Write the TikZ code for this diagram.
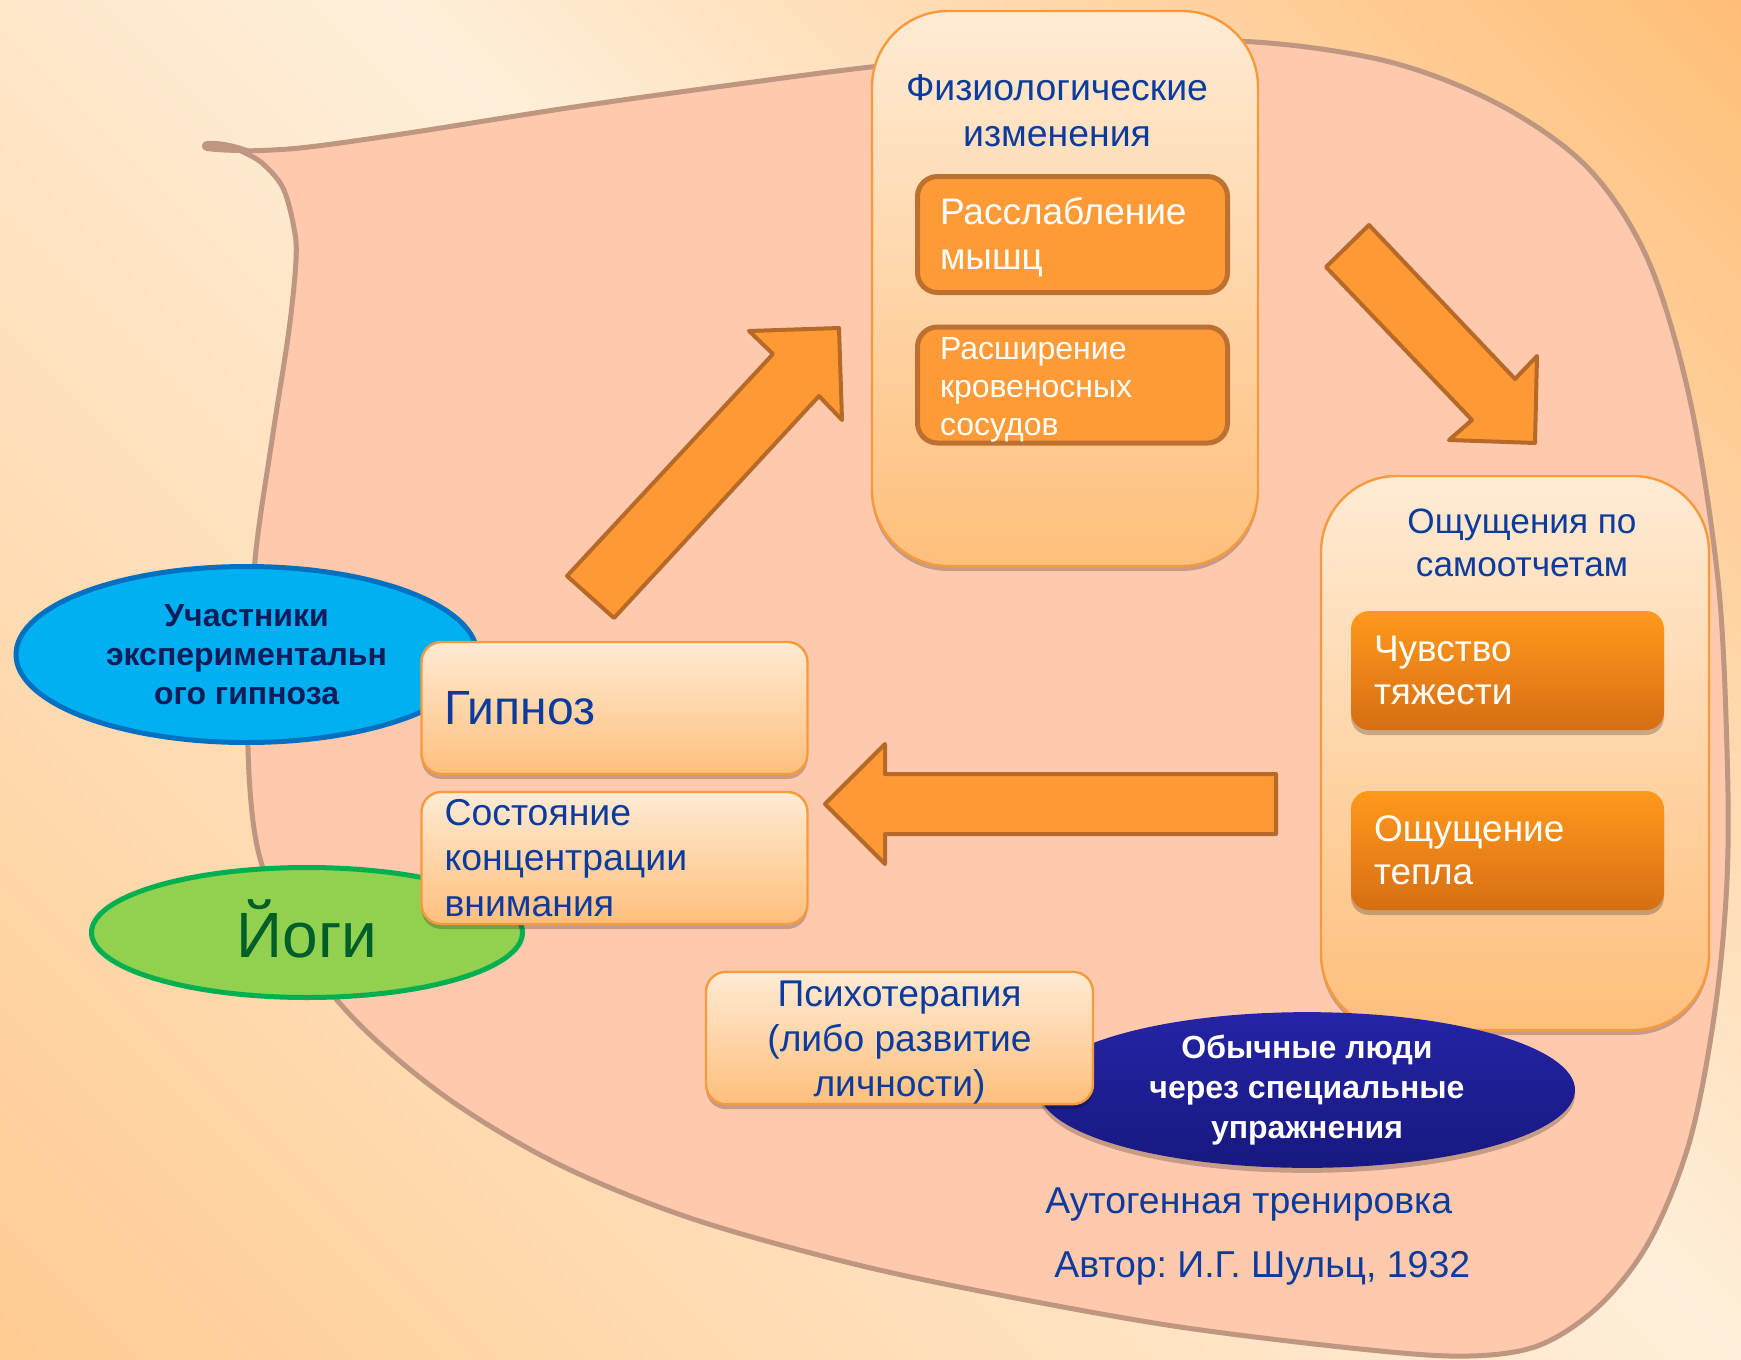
\documentclass[tikz,border=0pt]{standalone}
\usepackage{fontspec}
\setmainfont{Liberation Sans}
\usetikzlibrary{shapes.geometric,shadows}
\frenchspacing
\definecolor{bgLt}{HTML}{FFEFDA}
\definecolor{bgOr}{HTML}{FFBB72}
\definecolor{blobFill}{HTML}{FFC9AD}
\definecolor{blobLine}{HTML}{BF9680}
\definecolor{txtBlue}{HTML}{0C3B9E}
\definecolor{boxTop}{HTML}{FFEBD4}
\definecolor{boxBot}{HTML}{FFBF7C}
\definecolor{boxLine}{HTML}{F79A3C}
\definecolor{innFill}{HTML}{FF9B37}
\definecolor{innLine}{HTML}{BE7030}
\definecolor{intTop}{HTML}{FF9A1C}
\definecolor{intBot}{HTML}{D66E14}
\definecolor{arrFill}{HTML}{FF9933}
\definecolor{arrLine}{HTML}{B7692A}
\definecolor{uchFill}{HTML}{00B0F0}
\definecolor{uchLine}{HTML}{0070C0}
\definecolor{uchTxt}{HTML}{0E1D5A}
\definecolor{yogFill}{HTML}{92D050}
\definecolor{yogLine}{HTML}{00B050}
\definecolor{yogTxt}{HTML}{005E28}
\definecolor{obTop}{HTML}{2424A6}
\definecolor{obBot}{HTML}{181880}
\pgfdeclarehorizontalshading{bgshade}{100bp}{color(0bp)=(bgOr); color(12bp)=(bgOr); color(50bp)=(bgLt); color(71bp)=(bgOr); color(100bp)=(bgOr)}
\begin{document}
\begin{tikzpicture}[x=0.5pt,y=-0.5pt,
  softshadow/.style={drop shadow={shadow xshift=0pt,shadow yshift=-2.5pt,opacity=0.22,fill=black}},
  lightbox/.style={draw=boxLine,line width=1.2pt,top color=boxTop,bottom color=boxBot,rounded corners=10pt,softshadow,inner ysep=0pt},
  container/.style={lightbox,rounded corners=38pt},
  innerbox/.style={draw=innLine,line width=2.5pt,fill=innFill,rounded corners=10pt,text=white,align=left,inner ysep=0pt},
  intensebox/.style={top color=intTop,bottom color=intBot,rounded corners=9pt,text=white,align=left,softshadow,inner ysep=0pt},
  blockarrow/.style={fill=arrFill,draw=arrLine,line width=2pt,line join=round},
  blob/.style={fill=blobFill,draw=blobLine,line width=2.5pt},
  plain/.style={inner sep=0pt,text=txtBlue}
]
\useasboundingbox (0,0) rectangle (1741,1360);
\begin{scope}
\clip (0,0) rectangle (1741,1360);
\shade[shading=bgshade,shading angle=45] (971,580) ++(-1200,-1200) rectangle ++(2400,2400);
\end{scope}

% blob
\draw[blob] plot[smooth,tension=0.55] coordinates {(241,151) (262,163) (283,188) (294,228) (296,260) (289,330) (272,440) (255,560) (248,690) (250,790) (262,865) (300,950) (360,1025) (450,1100) (560,1165) (690,1218) (850,1263) (1000,1295) (1180,1327) (1370,1350) (1470,1356) (1540,1345) (1600,1305) (1650,1240) (1690,1140) (1715,1010) (1727,880) (1727,750) (1718,580) (1690,400) (1648,260) (1588,168) (1500,105) (1390,62) (1255,42) (1120,45) (1000,55) (871,67) (746,83) (574,107) (402,134) (300,148) (241,151)};
\fill[blobLine] (252,150) .. controls (236,143) and (216,140) .. (207,141) .. controls (200,142) and (200,150) .. (207,151) .. controls (222,153) and (240,153) .. (252,153) -- cycle;

% block arrows
\draw[blockarrow] (749,331) -- (839,328) -- (842,420) -- (819,396) -- (614,618) -- (567,576) -- (773,354) -- cycle;
\draw[blockarrow] (1369,225) -- (1326,267) -- (1472,420) -- (1449,440) -- (1535,443) -- (1537,356) -- (1515,379) -- cycle;
\draw[blockarrow] (825,804) -- (885,744) -- (885,774) -- (1276,774) -- (1276,834) -- (885,834) -- (885,864) -- cycle;

% physiological changes
\node[container,minimum width=193pt,minimum height=277.5pt] (phys) at (1065,288.5) {};
\node[plain,anchor=north,align=center,font=\fontsize{18.7}{23}\selectfont] (physT) at (1057,74) {Физиологические\\изменения};
\node[innerbox,minimum width=155pt,minimum height=58pt,text width=132.5pt,inner xsep=11.25pt,font=\fontsize{18.5}{22.5}\selectfont] (rass) at (1072.5,234.5) {\rule{0pt}{16.2pt}Расслабление\\мышц};
\node[innerbox,minimum width=155pt,minimum height=58pt,text width=132.5pt,inner xsep=11.25pt,font=\fontsize{16}{19}\selectfont] (rassh) at (1072.5,385) {\rule{0pt}{15.9pt}Расширение\\кровеносных\\сосудов};

% self reports
\node[container,minimum width=194pt,minimum height=277pt] (osh) at (1515,753) {};
\node[plain,anchor=north,align=center,font=\fontsize{17.6}{21.5}\selectfont] (oshT) at (1522,509) {Ощущения по\\самоотчетам};
\node[intensebox,minimum width=156.5pt,minimum height=59.5pt,text width=133.5pt,inner xsep=11.5pt,font=\fontsize{18.5}{21.5}\selectfont] (chuv) at (1507.5,670.5) {Чувство\\тяжести};
\node[intensebox,minimum width=156.5pt,minimum height=59.5pt,text width=133.5pt,inner xsep=11.5pt,font=\fontsize{18.5}{21.5}\selectfont] (tepl) at (1507.5,850.5) {Ощущение\\тепла};

% left side
\node[ellipse,draw=uchLine,line width=2.5pt,fill=uchFill,minimum width=230.5pt,minimum height=88pt,inner sep=0pt,align=center,text=uchTxt,font=\bfseries\fontsize{16}{19.5}\selectfont] (uch) at (246.5,654.5) {Участники\\экспериментальн\\ого гипноза};
\node[lightbox,minimum width=193pt,minimum height=66pt,text width=170pt,inner xsep=11.5pt,align=left,text=txtBlue,font=\fontsize{24}{28}\selectfont] (gip) at (614.5,708) {Гипноз};
\node[ellipse,draw=yogLine,line width=2.5pt,fill=yogFill,minimum width=215.5pt,minimum height=65pt,inner sep=0pt,text=yogTxt,font=\fontsize{32}{36}\selectfont] (yogi) at (307,932.5) {\rule[-4pt]{0pt}{4pt}Йоги};
\node[lightbox,minimum width=193pt,minimum height=66pt,text width=170pt,inner xsep=11.5pt,align=left,text=txtBlue,font=\fontsize{18.7}{22.75}\selectfont] (sost) at (614.5,858) {Состояние\\концентрации\\внимания};

% bottom
\node[ellipse,top color=obTop,bottom color=obBot,minimum width=268pt,minimum height=74pt,inner sep=0pt,align=center,text=white,font=\bfseries\fontsize{16}{20}\selectfont,softshadow] (obych) at (1307,1090) {Обычные люди\\через специальные\\упражнения};
\node[lightbox,minimum width=193.5pt,minimum height=66pt,align=center,text=txtBlue,font=\fontsize{18.6}{22.5}\selectfont] (psy) at (899.5,1038) {\rule{0pt}{17.3pt}Психотерапия\\(либо развитие\\личности)};
\node[plain,anchor=base west,font=\fontsize{18.7}{22}\selectfont] (autog) at (1045,1213) {Аутогенная тренировка};
\node[plain,anchor=base west,font=\fontsize{18.7}{22}\selectfont] (author) at (1054,1277) {Автор: И.Г. Шульц, 1932};
\end{tikzpicture}
\end{document}
